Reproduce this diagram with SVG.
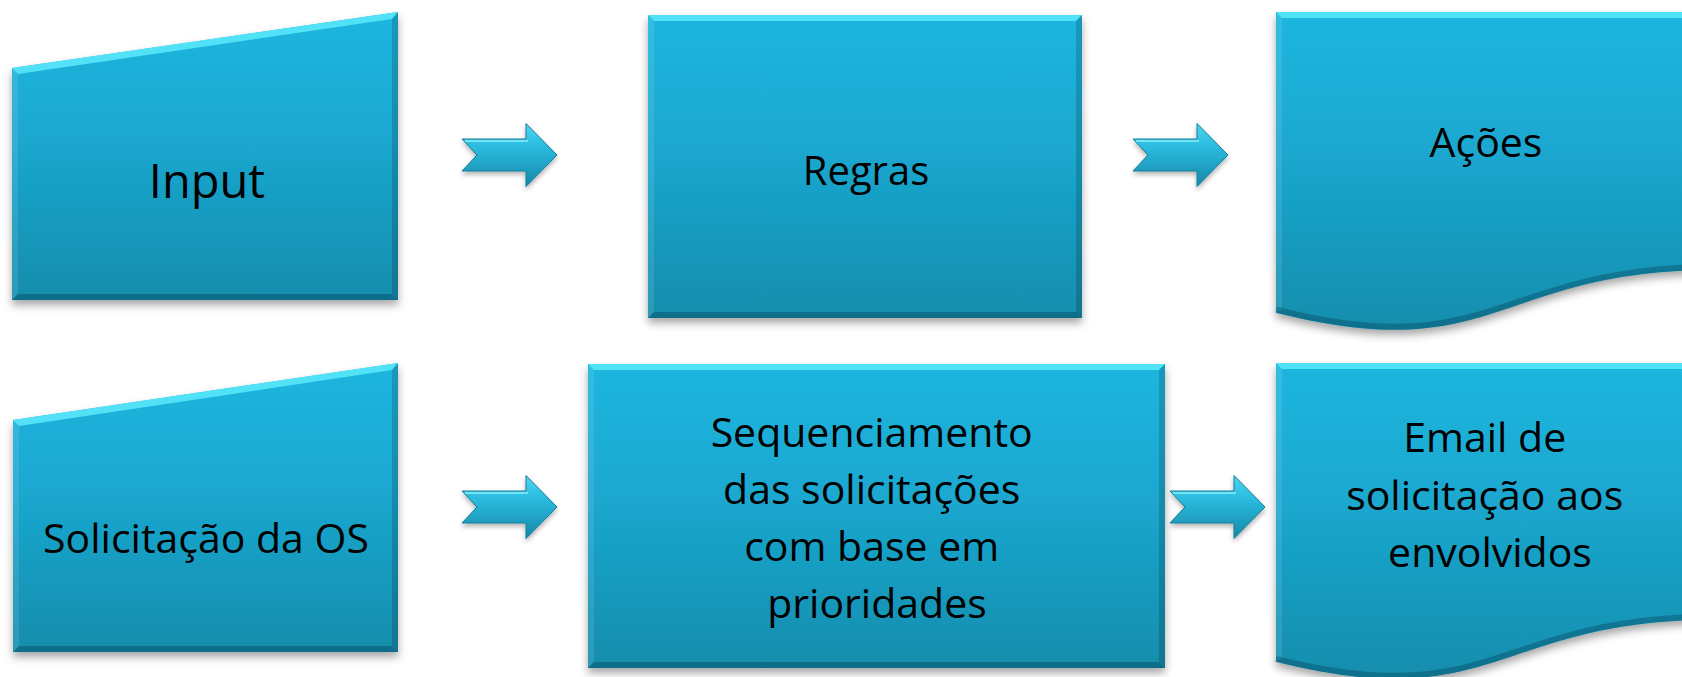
<svg xmlns="http://www.w3.org/2000/svg" xmlns:xlink="http://www.w3.org/1999/xlink" width="1682" height="677" viewBox="0 0 1682 677">
<style>
  .face { fill: url(#gFace); filter: url(#shadow); }
  .hiTop { fill: #5ceafb; opacity: 0.85; }
  .hiLeft { fill: #ffffff; opacity: 0.10; }
  .loRight { fill: #000000; opacity: 0.16; }
  .loBottom { fill: #003040; opacity: 0.32; }
  .wave { fill: none; stroke: #003040; stroke-opacity: 0.3; stroke-width: 6; }
  .lbl { font-family: "Open Sans", "DejaVu Sans", sans-serif; fill: #000000; text-anchor: middle; }
  .arrow { fill: url(#gArrow); stroke: #167c98; stroke-width: 1; stroke-linejoin: miter; filter: url(#ashadow); }
  .arrowHi { fill: none; stroke: #8ff4ff; stroke-opacity: 0.7; stroke-width: 2; }
</style>
<defs>
  <linearGradient id="gFace" x1="0" y1="0" x2="0" y2="1">
    <stop offset="0" stop-color="#1bb6df"/>
    <stop offset="0.45" stop-color="#1aa7cf"/>
    <stop offset="1" stop-color="#168dad"/>
  </linearGradient>
  <linearGradient id="gArrow" x1="0" y1="0" x2="0" y2="1">
    <stop offset="0" stop-color="#4fd6ee"/>
    <stop offset="0.35" stop-color="#2bbde0"/>
    <stop offset="1" stop-color="#1687a8"/>
  </linearGradient>
  <filter id="shadow" x="-10%" y="-10%" width="120%" height="130%">
    <feDropShadow dx="0" dy="5" stdDeviation="4" flood-color="#000000" flood-opacity="0.35"/>
  </filter>
  <filter id="ashadow" x="-20%" y="-20%" width="140%" height="160%">
    <feDropShadow dx="0" dy="3" stdDeviation="2.5" flood-color="#000000" flood-opacity="0.3"/>
  </filter>
  <path id="arrowShape" d="M0,-16 H64 V-31.5 L95,0 L64,31.5 V16 H0 L15,0 Z"/>
</defs>
<rect x="0" y="0" width="1682" height="677" fill="#ffffff"/>

<g id="node-input">
  <path class="face" d="M12,68 L398,12 L398,300 L12,300 Z"/>
  <path class="hiTop" d="M12,68 L398,12 L392,19 L18,74 Z"/>
  <path class="hiLeft" d="M12,68 L18,74 L18,294 L12,300 Z"/>
  <path class="loRight" d="M398,12 L398,300 L392,294 L392,19 Z"/>
  <path class="loBottom" d="M12,300 L398,300 L392,294 L18,294 Z"/>
  <text class="lbl" x="207" y="198" font-size="47">Input</text>
</g>

<g id="node-regras">
  <path class="face" d="M648,15 H1082 V318 H648 Z"/>
  <path class="hiTop" d="M648,15 H1082 L1076,21 H654 Z"/>
  <path class="hiLeft" d="M648,15 L654,21 V312 L648,318 Z"/>
  <path class="loRight" d="M1082,15 V318 L1076,312 V21 Z"/>
  <path class="loBottom" d="M648,318 H1082 L1076,312 H654 Z"/>
  <text class="lbl" x="866" y="185" font-size="40">Regras</text>
</g>

<g id="node-acoes">
  <path class="face" d="M1276,12 H1716 V270 C1496,270 1496,368.6 1276,312.7 Z"/>
  <path class="hiTop" d="M1276,12 H1716 V18 H1282 Z"/>
  <path class="hiLeft" d="M1276,12 L1282,18 V310 L1276,312.7 Z"/>
  <path class="wave" d="M1716,267 C1496,267 1496,365.6 1276,309.7"/>
  <text class="lbl" x="1486" y="157" font-size="41">Ações</text>
</g>

<g id="node-solicitacao">
  <path class="face" d="M13,420 L398,363 L398,652 L13,652 Z"/>
  <path class="hiTop" d="M13,420 L398,363 L392,370 L19,426 Z"/>
  <path class="hiLeft" d="M13,420 L19,426 L19,646 L13,652 Z"/>
  <path class="loRight" d="M398,363 L398,652 L392,646 L392,370 Z"/>
  <path class="loBottom" d="M13,652 L398,652 L392,646 L19,646 Z"/>
  <text class="lbl" x="206" y="553" font-size="41">Solicitação da OS</text>
</g>

<g id="node-sequenciamento">
  <path class="face" d="M588,364 H1165 V668 H588 Z"/>
  <path class="hiTop" d="M588,364 H1165 L1159,370 H594 Z"/>
  <path class="hiLeft" d="M588,364 L594,370 V662 L588,668 Z"/>
  <path class="loRight" d="M1165,364 V668 L1159,662 V370 Z"/>
  <path class="loBottom" d="M588,668 H1165 L1159,662 H594 Z"/>
  <text class="lbl" font-size="41">
    <tspan x="877" y="447">Sequenciamento</tspan>
    <tspan x="877" y="504">das solicitações</tspan>
    <tspan x="877" y="561">com base em</tspan>
    <tspan x="877" y="618">prioridades</tspan>
  </text>
</g>

<g id="node-email">
  <path class="face" d="M1276,363 H1716 V619.6 C1496,619.6 1496,717.4 1276,661.8 Z"/>
  <path class="hiTop" d="M1276,363 H1716 V369 H1282 Z"/>
  <path class="hiLeft" d="M1276,363 L1282,369 V659 L1276,661.8 Z"/>
  <path class="wave" d="M1716,616.6 C1496,616.6 1496,714.4 1276,658.8"/>
  <text class="lbl" font-size="41">
    <tspan x="1490" y="452">Email de</tspan>
    <tspan x="1490" y="510">solicitação aos</tspan>
    <tspan x="1490" y="567">envolvidos</tspan>
  </text>
</g>

<g id="connectors">
  <g transform="translate(462,155)">
    <use xlink:href="#arrowShape" href="#arrowShape" class="arrow"/>
    <path class="arrowHi" d="M3,-14 H66"/>
  </g>
  <g transform="translate(1133,155)">
    <use xlink:href="#arrowShape" href="#arrowShape" class="arrow"/>
    <path class="arrowHi" d="M3,-14 H66"/>
  </g>
  <g transform="translate(462,507)">
    <use xlink:href="#arrowShape" href="#arrowShape" class="arrow"/>
    <path class="arrowHi" d="M3,-14 H66"/>
  </g>
  <g transform="translate(1170,507)">
    <use xlink:href="#arrowShape" href="#arrowShape" class="arrow"/>
    <path class="arrowHi" d="M3,-14 H66"/>
  </g>
</g>
</svg>
